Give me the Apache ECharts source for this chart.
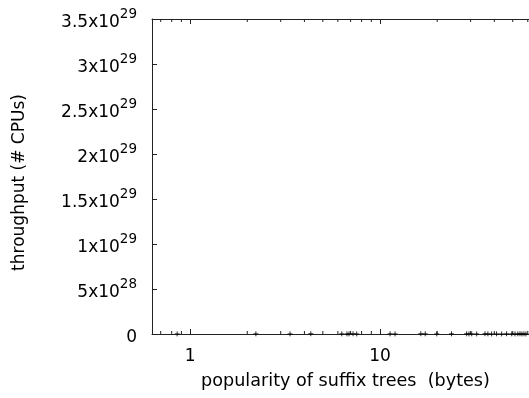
<!DOCTYPE html>
<html>
<head>
<meta charset="utf-8">
<script src="https://cdn.jsdelivr.net/npm/echarts@6/dist/echarts.min.js"></script>
<style>html,body{margin:0;padding:0;background:#fff}#c{width:529px;height:398px}</style>
</head>
<body>
<div id="c"></div>
<script>
// Data: all points sit on (near) zero
var sizes = [0.855, 2.22, 3.36, 4.32, 6.29, 6.70, 6.87, 7.21, 7.54, 11.3, 12.0, 16.4, 17.3, 19.9, 23.8, 28.6, 29.4, 30.4, 32.3, 35.7, 37.0, 38.7, 41.1, 43.7, 46.4, 49.4, 51.4, 53.2, 54.6, 55.9, 57.3, 58.7];
var throughput = [1e26, 2e26, 1e26, 3e26, 2e26, 1e26, 2e26, 3e26, 1e26, 2e26, 1e26, 3e26, 2e26, 1e26, 2e26, 3e26, 1e26, 2e26, 1e26, 3e26, 2e26, 1e26, 2e26, 1e26, 3e26, 2e26, 1e26, 2e26, 3e26, 1e26, 2e26, 1e26];
var xMinorTicks = [0.7, 0.8, 0.9, 2, 3, 4, 5, 6, 7, 8, 9, 20, 30, 40, 50, 60];
var xMin = 0.63, xMax = 60.9;
var yMin = 0, yMax = 3.5e29, yStep = 5e28;

var FONT = '"DejaVu Sans", sans-serif';
function yFmt(v) {
  if (v === 0) return '{b|0}';
  var e = Math.floor(Math.log10(v) + 1e-9);
  var m = Math.round(v / Math.pow(10, e) * 10) / 10;
  return '{b|' + m + 'x10}{s|' + e + '}';
}
var chart = echarts.init(document.getElementById('c'), null, {renderer: 'canvas'});
var axisLine = {show: true, onZero: false, lineStyle: {color: '#222', width: 1}};
var points = sizes.map(function (s, i) { return [s, throughput[i]]; });
var minor = xMinorTicks.map(function (s) { return [s, 0]; });
chart.setOption({
  animation: false,
  textStyle: {fontFamily: FONT},
  grid: {left: 152, right: 0, top: 19, bottom: 64, outerBoundsMode: 'none', containLabel: false},
  xAxis: [{
    type: 'log', logBase: 10, min: xMin, max: xMax,
    axisLine: axisLine,
    axisTick: {show: true, inside: true, length: 5, lineStyle: {color: '#222'}},
    axisLabel: {show: true, margin: 14, color: '#000', fontSize: 17, fontFamily: FONT, showMinLabel: false, showMaxLabel: false},
    splitLine: {show: false},
    name: 'popularity of suffix trees  (bytes)', nameLocation: 'middle', nameGap: 38,
    nameTextStyle: {color: '#000', fontSize: 17.6, fontFamily: FONT, padding: [0, 0, 0, 10]}
  }, {
    type: 'log', logBase: 10, min: xMin, max: xMax, position: 'top',
    axisLine: axisLine,
    axisTick: {show: true, inside: true, length: 5, lineStyle: {color: '#222'}},
    axisLabel: {show: false}, splitLine: {show: false}
  }],
  yAxis: [{
    type: 'value', min: yMin, max: yMax, interval: yStep,
    axisLine: axisLine,
    axisTick: {show: true, inside: true, length: 5, lineStyle: {color: '#222'}},
    axisLabel: {
      margin: 15, formatter: yFmt,
      rich: {
        b: {fontSize: 17, color: '#000', fontFamily: FONT, lineHeight: 24, verticalAlign: 'bottom'},
        s: {fontSize: 13.5, color: '#000', fontFamily: FONT, lineHeight: 24, verticalAlign: 'top'}
      }
    },
    splitLine: {show: false},
    name: 'throughput (# CPUs)', nameLocation: 'middle', nameGap: 124,
    nameTextStyle: {color: '#000', fontSize: 17, fontFamily: FONT, padding: [0, 12, 0, 0]}
  }],
  series: [{
    type: 'custom', xAxisIndex: 0, yAxisIndex: 0, silent: true,
    data: minor,
    renderItem: function (params, api) {
      var b = api.coord([api.value(0), yMin]);
      var t = api.coord([api.value(0), yMax]);
      var st = {stroke: '#222', lineWidth: 1};
      return {type: 'group', children: [
        {type: 'line', shape: {x1: b[0], y1: b[1], x2: b[0], y2: b[1] - 3}, style: st},
        {type: 'line', shape: {x1: t[0], y1: t[1], x2: t[0], y2: t[1] + 3}, style: st}
      ]};
    }
  }, {
    type: 'scatter', xAxisIndex: 0, yAxisIndex: 0,
    data: points,
    symbol: 'path://M0,-1L0,1M-1,0L1,0',
    symbolSize: 5,
    itemStyle: {color: 'none', borderColor: '#000', borderWidth: 1},
    clip: false
  }]
});
</script>
</body>
</html>
